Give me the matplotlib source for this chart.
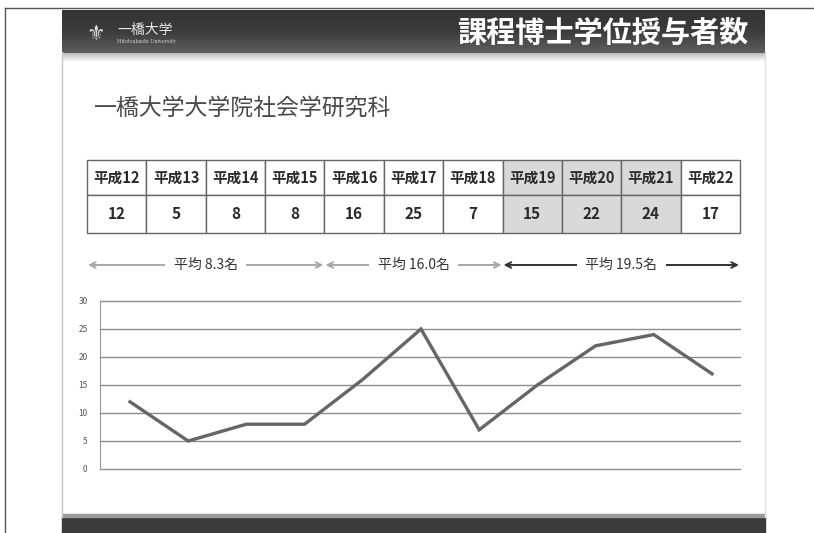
import numpy as np
import matplotlib
matplotlib.use("Agg")
import matplotlib.pyplot as plt
from matplotlib.patches import Rectangle

plt.rcParams['font.family'] = ['Noto Sans CJK JP', 'DejaVu Sans']

# ---- data ----
years = ["平成12", "平成13", "平成14", "平成15", "平成16", "平成17",
         "平成18", "平成19", "平成20", "平成21", "平成22"]
counts = [12, 5, 8, 8, 16, 25, 7, 15, 22, 24, 17]
highlight = [False] * 7 + [True, True, True, False]
avg_labels = ["平均 8.3名", "平均 16.0名", "平均 19.5名"]
avg_spans = [(0, 4), (4, 7), (7, 11)]   # column ranges (start, end) in table
avg_dark = [False, False, True]
title = "課程博士学位授与者数"
subtitle = "一橋大学大学院社会学研究科"
yticks = [0, 5, 10, 15, 20, 25, 30]

W, H = 814, 533
fig = plt.figure(figsize=(W / 100, H / 100), dpi=100)
bg = fig.add_axes([0, 0, 1, 1])
bg.set_xlim(0, W)
bg.set_ylim(H, 0)
bg.axis('off')

# outer frame lines
bg.plot([5, W], [8, 8], color='#555555', lw=1)
bg.plot([5, 5], [8, H], color='#555555', lw=1)

# slide edges
SX0, SX1 = 62, 765
bg.plot([SX0, SX0], [52, 517], color='#c8c8c8', lw=1)
bg.plot([SX1, SX1], [52, 517], color='#e0e0e0', lw=1)

# header band gradient
grad = np.linspace(0, 1, 50).reshape(-1, 1)
cmap = matplotlib.colors.LinearSegmentedColormap.from_list('g', ['#333333', '#3c3c3c', '#5e5e5e'])
bg.imshow(grad, extent=(SX0, SX1, 53, 10), cmap=cmap, aspect='auto', zorder=1)
# shadow under header
sh = np.linspace(0, 1, 20).reshape(-1, 1)
cmap2 = matplotlib.colors.LinearSegmentedColormap.from_list('s', ['#bdbdbd', '#ffffff'])
bg.imshow(sh, extent=(SX0, SX1, 62, 53), cmap=cmap2, aspect='auto', zorder=1)
# bottom band
bg.add_patch(Rectangle((SX0, 517), SX1 - SX0, H - 517, color='#3a3a3a', zorder=1))
bg.add_patch(Rectangle((SX0, 514), SX1 - SX0, 3, color='#9a9a9a', zorder=1))

# header texts
bg.text(748, 33, title, color='white', fontsize=21, fontweight='bold',
        ha='right', va='center', zorder=3)
bg.text(117, 30, "一橋大学", color='#e8e8e8', fontsize=10, ha='left', va='center', zorder=3)
bg.text(117, 42, "Hitotsubashi University", color='#cfcfcf', fontsize=3.5,
        ha='left', va='center', family='DejaVu Serif', zorder=3)
bg.text(96, 34, "⚜", color='#dddddd', fontsize=15, ha='center', va='center',
        family='DejaVu Sans', zorder=3)

# subtitle
bg.text(94, 108, subtitle, color='#4a4a4a', fontsize=16.5, ha='left', va='center')

# table
TX0, TX1 = 87, 740
TY0, TY1, TY2 = 160, 195, 233
n = len(years)
cw = (TX1 - TX0) / n
for i, (yr, c, hl) in enumerate(zip(years, counts, highlight)):
    x = TX0 + i * cw
    fc = '#d9d9d9' if hl else 'white'
    bg.add_patch(Rectangle((x, TY0), cw, TY1 - TY0, facecolor=fc, edgecolor='#666666', lw=1, zorder=2))
    bg.add_patch(Rectangle((x, TY1), cw, TY2 - TY1, facecolor=fc, edgecolor='#666666', lw=1, zorder=2))
    bg.text(x + cw / 2, (TY0 + TY1) / 2, yr, fontsize=10.5, fontweight='bold',
            color='#2a2a2a', ha='center', va='center', zorder=3)
    bg.text(x + cw / 2, (TY1 + TY2) / 2, str(c), fontsize=11, fontweight='bold',
            color='#2a2a2a', ha='center', va='center', zorder=3)

# average arrows
AY = 265
for (s, e), lab, dark in zip(avg_spans, avg_labels, avg_dark):
    x0 = TX0 + s * cw
    x1 = TX0 + e * cw
    col = '#333333' if dark else '#a8a8a8'
    xm = (x0 + x1) / 2
    bg.annotate('', xy=(x0 + 1, AY), xytext=(xm, AY),
                arrowprops=dict(arrowstyle='->', color=col, lw=1.4, shrinkA=0, shrinkB=0))
    bg.annotate('', xy=(x1 - 1, AY), xytext=(xm, AY),
                arrowprops=dict(arrowstyle='->', color=col, lw=1.4, shrinkA=0, shrinkB=0))
    bg.text(xm, AY, lab, fontsize=10, color='#333333', ha='center', va='center',
            bbox=dict(facecolor='white', edgecolor='none', pad=6), zorder=4)

# line chart
PX0, PX1 = 100, 740
PY_top, PY_bot = 301, 469
ax = fig.add_axes([PX0 / W, (H - PY_bot) / H, (PX1 - PX0) / W, (PY_bot - PY_top) / H])
ax.patch.set_alpha(0)
xs = np.arange(n)
ax.plot(xs, counts, color='#666666', lw=2.4, solid_joinstyle='miter', zorder=3)
ax.set_ylim(0, 30)
ax.set_xlim(-30 / 58.2, 10 + 28 / 58.2)
ax.set_yticks(yticks)
for yv in yticks:
    ax.axhline(yv, color='#8c8c8c', lw=1, clip_on=False, zorder=1)
ax.set_xticks([])
for side in ['top', 'right', 'bottom']:
    ax.spines[side].set_visible(False)
ax.spines['left'].set_color('#9a9a9a')
ax.tick_params(axis='y', length=0, labelsize=6, colors='#555555', pad=9)

fig.savefig('out.png', dpi=100)
